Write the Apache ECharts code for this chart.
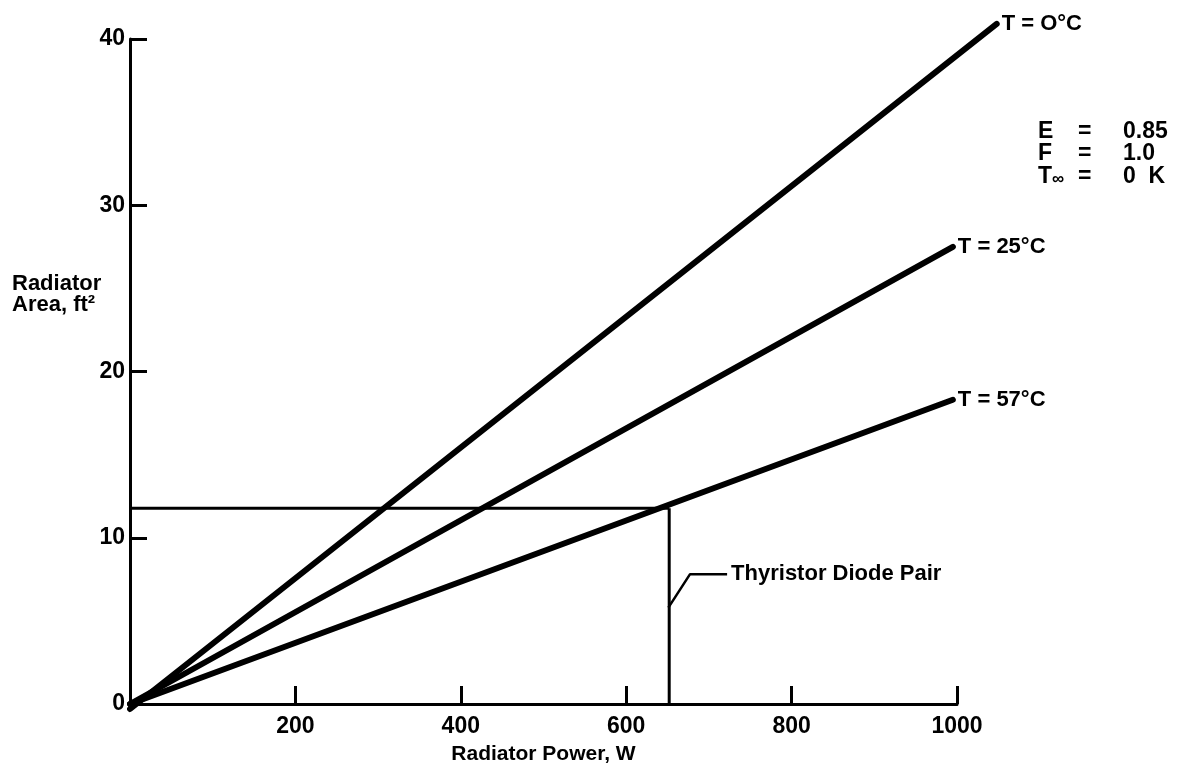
<!DOCTYPE html>
<html>
<head>
<meta charset="utf-8">
<script src="https://cdn.jsdelivr.net/npm/echarts@6/dist/echarts.min.js"></script>
<style>
html,body{margin:0;padding:0;background:#fff;}
#chart{width:1180px;height:770px;}
</style>
</head>
<body>
<div id="chart"></div>
<script>
// ---- data ----
const xTicks = [0, 200, 400, 600, 800, 1000];
const yTicks = [0, 10, 20, 30, 40];
const seriesNames = ['T = O°C', 'T = 25°C', 'T = 57°C'];
const line0C = [[0, 0], [1048, 40.9]];
const line25C = [[0, 0], [995, 27.5]];
const line57C = [[0, 0], [995, 18.3]];
const thyristorPower = 652;
const thyristorArea = 11.77;
const guideHorizontal = [[0, thyristorArea], [thyristorPower, thyristorArea]];
const guideVertical = [[thyristorPower, thyristorArea], [thyristorPower, 0]];
const leaderLine = [[651, 5.8], [677, 7.8], [722, 7.8]];
const annotationText = 'Thyristor Diode Pair';
const paramNames = ['{t|E}', '{t|F}', '{t|T}{s|\u221E}'];
const paramValues = ['0.85', '1.0', '0  K'];
const xTitle = 'Radiator Power, W';
const yTitle = ['Radiator', 'Area, ft\u00B2'];

const FONT = '"Liberation Sans", Arial, sans-serif';
const chart = echarts.init(document.getElementById('chart'));

const bold = (size) => ({fontFamily: FONT, fontWeight: 'bold', fontSize: size, color: '#000'});

// plot area geometry (one scale for both grids)
const G = {left: 130, top: 39, bottom: 61, width: 827};
const extMax = 1050;

function mainLine(name, data, idx) {
  return {
    type: 'line', name: name, data: data, clip: false, silent: true,
    xAxisIndex: idx, yAxisIndex: idx,
    showSymbol: false, symbol: 'none',
    lineStyle: {color: '#000', width: 6, cap: 'round'},
    endLabel: Object.assign({show: true, formatter: name, distance: 5}, bold(22)),
    z: 5
  };
}

const paramGraphics = [];
paramNames.forEach((n, i) => {
  const top = 120 + i * 22.5;
  paramGraphics.push({type: 'text', left: 1038, top: top, style: {text: n, fill: '#000',
    rich: {t: {font: 'bold 23px ' + FONT, fill: '#000'}, s: {font: 'bold 17px ' + FONT, fill: '#000', padding: [6, 0, 0, 0]}}}});
  paramGraphics.push({type: 'text', left: 1078, top: top, style: {text: '=', font: 'bold 23px ' + FONT, fill: '#000'}});
  paramGraphics.push({type: 'text', left: 1123, top: top, style: {text: paramValues[i], font: 'bold 23px ' + FONT, fill: '#000'}});
});

const option = {
  animation: false,
  backgroundColor: '#fff',
  grid: [
    {left: G.left, width: G.width, top: G.top, bottom: G.bottom, containLabel: false},
    {left: G.left, width: G.width * extMax / 1000, top: G.top, bottom: G.bottom, containLabel: false}
  ],
  xAxis: [{
    gridIndex: 0, type: 'value', min: xTicks[0], max: xTicks[xTicks.length - 1], interval: 200,
    name: xTitle, nameLocation: 'middle', nameGap: 40,
    nameTextStyle: bold(21),
    axisLine: {show: true, lineStyle: {color: '#000', width: 3}},
    axisTick: {show: true, inside: true, length: 18, lineStyle: {color: '#000', width: 3}},
    axisLabel: Object.assign({margin: 11, showMinLabel: false,
      formatter: (v) => v === 0 ? '' : String(v)}, bold(23)),
    splitLine: {show: false}
  }, {
    gridIndex: 1, type: 'value', min: 0, max: extMax, show: false, splitLine: {show: false}
  }],
  yAxis: [{
    gridIndex: 0, type: 'value', min: yTicks[0], max: yTicks[yTicks.length - 1], interval: 10,
    axisLine: {show: true, lineStyle: {color: '#000', width: 3}},
    axisTick: {show: true, inside: true, length: 17, lineStyle: {color: '#000', width: 3}},
    axisLabel: Object.assign({margin: 5}, bold(23)),
    splitLine: {show: false}
  }, {
    gridIndex: 1, type: 'value', min: 0, max: 40, show: false, splitLine: {show: false}
  }],
  graphic: [
    {type: 'text', left: 12, top: 273, style: {text: yTitle.join('\n'), font: 'bold 22px ' + FONT, fill: '#000', lineHeight: 21}}
  ].concat(paramGraphics),
  series: [
    mainLine(seriesNames[0], line0C, 1),
    mainLine(seriesNames[1], line25C, 0),
    mainLine(seriesNames[2], line57C, 0),
    {type: 'line', data: guideHorizontal, symbol: 'none', silent: true, lineStyle: {color: '#000', width: 3}},
    {type: 'line', data: guideVertical, symbol: 'none', silent: true, lineStyle: {color: '#000', width: 3}},
    {type: 'line', data: leaderLine, symbol: 'none', silent: true, lineStyle: {color: '#000', width: 2.5},
      endLabel: Object.assign({show: true, formatter: annotationText, distance: 4}, bold(22))}
  ]
};
chart.setOption(option);
</script>
</body>
</html>
